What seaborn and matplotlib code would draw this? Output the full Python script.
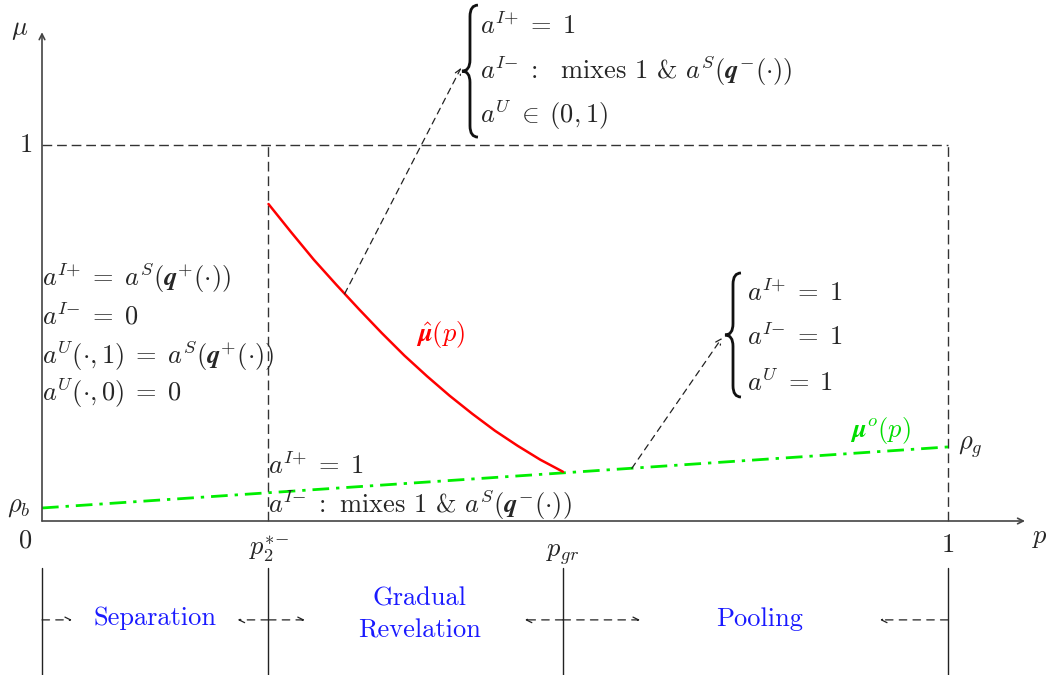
import matplotlib
matplotlib.use("Agg")
import matplotlib.pyplot as plt
import seaborn as sns
from matplotlib.path import Path
from matplotlib.patches import PathPatch

sns.set_style("white")
plt.rcParams["mathtext.fontset"] = "cm"
plt.rcParams["font.family"] = ["cmr10", "DejaVu Serif"]

# data (p on x, mu on y)
p_hat = [0.25, 0.275, 0.30, 0.325, 0.35, 0.375, 0.40, 0.425, 0.45, 0.475,
         0.50, 0.525, 0.55, 0.575]
mu_hat = [0.843, 0.768, 0.695, 0.628, 0.563, 0.500, 0.440, 0.385, 0.333, 0.285,
          0.240, 0.200, 0.163, 0.131]
p_o = [0.0, 1.0]
mu_o = [0.0346, 0.197]
p2_star = 0.25
p_gr = 0.575
regions = ["Separation", "Gradual\nRevelation", "Pooling"]

fs = 19
dark = "#444444"
blue = "#1a1aff"

fig = plt.figure(figsize=(10.47, 6.75), dpi=100)
ax = fig.add_axes([0, 0, 1, 1])
ax.set_xlim(-42 / 906, 1005 / 906)
ax.set_ylim(-154 / 376, 521 / 376)
ax.axis("off")

# axes with arrows
ax.annotate("", xy=(1.085, 0), xytext=(0, 0),
            arrowprops=dict(arrowstyle="->", lw=1.2, color=dark, shrinkA=0, shrinkB=0))
ax.annotate("", xy=(0, 1.30), xytext=(0, 0),
            arrowprops=dict(arrowstyle="->", lw=1.2, color=dark, shrinkA=0, shrinkB=0))

# dashed guides
dash = dict(color="#333333", lw=1.0, dashes=(7, 3.5))
ax.plot([0, 1], [1, 1], **dash)
ax.plot([p2_star, p2_star], [0, 1], **dash)
ax.plot([1, 1], [0, 1], **dash)

# curves
sns.lineplot(x=p_o, y=mu_o, ax=ax, color="#00ee00", lw=2.0,
             linestyle=(0, (6, 2.5, 1.2, 2.5)))
sns.lineplot(x=p_hat, y=mu_hat, ax=ax, color="#ff0000", lw=1.8)

# axis labels / ticks
ax.text(-0.0243, 1.306, r"$\mu$", fontsize=fs, ha="center", va="center")
ax.text(1.1015, -0.045, r"$p$", fontsize=fs, ha="center", va="center")
ax.text(-0.011, 1.0, r"$1$", fontsize=fs, ha="right", va="center")
ax.text(-0.019, -0.052, r"$0$", fontsize=fs, ha="center", va="center")
ax.text(-0.013, 0.037, r"$\rho_b$", fontsize=fs, ha="right", va="center")
ax.text(1.011, 0.197, r"$\rho_g$", fontsize=fs, ha="left", va="center")
ax.text(p2_star, -0.075, r"$p_2^{*{-}}$", fontsize=fs, ha="center", va="center")
ax.text(p_gr, -0.09, r"$p_{gr}$", fontsize=fs, ha="center", va="center")
ax.text(1.0, -0.064, r"$1$", fontsize=fs, ha="center", va="center")

# curve labels
ax.text(0.44, 0.495, r"$\hat{\mathbfit{\mu}}(p)$", fontsize=fs, color="#ff0000",
        ha="center", va="center")
ax.text(0.925, 0.242, r"$\mathbfit{\mu}^o(p)$", fontsize=fs, color="#00dd00",
        ha="center", va="center")

mixes = r" mixes 1 & $a^S(\mathbfit{q}^{-}(\cdot))$"
eq = r"\;=\;"

# left block
left_lines = [r"$a^{I{+}}" + eq + r"a^S(\mathbfit{q}^{+}(\cdot))$",
              r"$a^{I{-}}" + eq + r"0$",
              r"$a^U(\cdot,1)" + eq + r"a^S(\mathbfit{q}^{+}(\cdot))$",
              r"$a^U(\cdot,0)" + eq + r"0$"]
for txt, y in zip(left_lines, [0.649, 0.545, 0.441, 0.340]):
    ax.text(0.0, y, txt, fontsize=fs, ha="left", va="center")

ax.text(p2_star, 0.149, r"$a^{I{+}}" + eq + "1$", fontsize=fs, ha="left", va="center")
ax.text(p2_star, 0.043, r"$a^{I{-}}\;:$" + mixes,
        fontsize=fs, ha="left", va="center")


def brace(x0, top, bot, dx=0.0088, r=0.03):
    mid = (top + bot) / 2
    verts = [(x0 + dx, top), (x0, top), (x0, top - r),
             (x0, mid + r), (x0, mid), (x0 - dx, mid),
             (x0, mid), (x0, mid - r),
             (x0, bot + r), (x0, bot), (x0 + dx, bot)]
    codes = [Path.MOVETO, Path.CURVE3, Path.CURVE3,
             Path.LINETO, Path.CURVE3, Path.CURVE3,
             Path.CURVE3, Path.CURVE3,
             Path.LINETO, Path.CURVE3, Path.CURVE3]
    ax.add_patch(PathPatch(Path(verts, codes), fill=False, lw=2.0, color="#111111"))


# top brace
brace(0.4724, 1.372, 1.021)
top_lines = [r"$a^{I{+}}" + eq + "1$", r"$a^{I{-}}\;:$ " + mixes,
             r"$a^U\;\in\;(0,1)$"]
for txt, y in zip(top_lines, [1.319, 1.197, 1.080]):
    ax.text(0.4834, y, txt, fontsize=fs, ha="left", va="center")

# right brace
brace(0.7627, 0.6596, 0.3298)
right_lines = [r"$a^{I{+}}" + eq + "1$", r"$a^{I{-}}" + eq + "1$", r"$a^U" + eq + "1$"]
for txt, y in zip(right_lines, [0.609, 0.492, 0.370]):
    ax.text(0.778, y, txt, fontsize=fs, ha="left", va="center")

# dashed pointer arrows
arr = dict(arrowstyle="->", lw=0.9, color="#222222", linestyle=(0, (5, 4)),
           shrinkA=0, shrinkB=0)
ax.annotate("", xy=(0.4625, 1.205), xytext=(0.334, 0.604), arrowprops=arr)
ax.annotate("", xy=(0.7505, 0.487), xytext=(0.651, 0.140), arrowprops=arr)

# bottom regions
for xv in [0, p2_star, p_gr, 1]:
    ax.plot([xv, xv], [-0.125, -0.41], color="#222222", lw=1.0)
ya = -0.263
arr2 = dict(arr, linestyle=(0, (6, 5)))
for x0, x1 in [(0, 0.033), (0.25, 0.216), (0.25, 0.29), (0.575, 0.533),
               (0.575, 0.66), (1.0, 0.925)]:
    ax.annotate("", xy=(x1, ya), xytext=(x0, ya), arrowprops=arr2)

ax.text(0.1247, -0.258, regions[0], fontsize=fs, color=blue,
        ha="center", va="center")
ax.text(0.417, -0.249, regions[1], fontsize=fs, color=blue,
        ha="center", va="center", linespacing=1.45)
ax.text(0.7925, -0.261, regions[2], fontsize=fs, color=blue,
        ha="center", va="center")

fig.savefig("out.png", dpi=100)
